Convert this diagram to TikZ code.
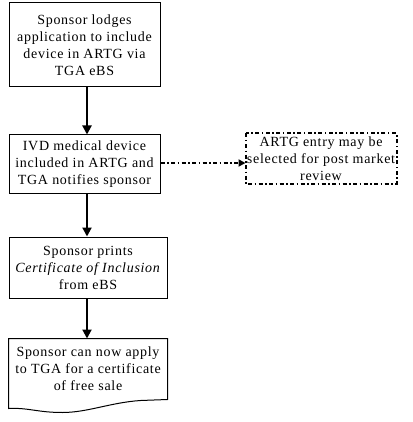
\documentclass[tikz,border=0pt]{standalone}
\usepackage{fontspec}
\setmainfont{Liberation Serif}[LetterSpace=5]
\usetikzlibrary{arrows.meta,calc}
\begin{document}
\begin{tikzpicture}[x=1pt,y=-1pt,
  box/.style={draw,line width=1pt,align=center,inner sep=0pt,font=\fontsize{14}{17}\selectfont},
  flow/.style={line width=2pt,-{Triangle[length=9pt,width=9pt]}},
  dd/.style={line width=2pt,dash pattern=on 4pt off 2.5pt on 1.5pt off 2.5pt},
]
\useasboundingbox (0,0) rectangle (412,422);
\coordinate (ax) at (87,0);
\node[box,minimum width=151pt,minimum height=84pt] (b1) at (84.5,45)
  {Sponsor lodges\\application to include\\device in ARTG via\\TGA eBS};
\node[box,minimum width=151pt,minimum height=58pt] (b2) at (84.5,164)
  {IVD medical device\\included in ARTG and\\TGA notifies sponsor};
\node[box,minimum width=158pt,minimum height=61pt] (b3) at (88,267.5)
  {Sponsor prints\\\textit{Certificate of Inclusion}\\from eBS};
\node[box,draw=none,minimum width=158pt,minimum height=60pt] (b4) at (88,369)
  {Sponsor can now apply\\to TGA for a certificate\\of free sale};
\draw[line width=1pt] (b4.south east) -- ++(-27,1) .. controls +(-30,2) and +(25,0) .. ($(b4.south west)+(54,13)$)
  .. controls +(-25,0) and +(20,-1) .. ($(b4.south west)+(0,9)$) -- (b4.north west) -- (b4.north east) -- cycle;
\node[box,draw=none,minimum width=150pt,minimum height=49pt] (d) at (321,158.5)
  {ARTG entry may be\\selected for post market\\review};
\draw[dd] (d.north west) rectangle (d.south east);
\draw[flow] (b1.south -| ax) -- (b2.north -| ax);
\draw[flow] (b2.south -| ax) -- (b3.north -| ax);
\draw[flow] (b3.south -| ax) -- (b4.north -| ax);
\draw[dd,-{Triangle[length=7pt,width=7pt]}] ($(b2.east)+(0,-1)$) -- ($(b2.east -| d.west)+(0,-1)$);
\end{tikzpicture}
\end{document}
